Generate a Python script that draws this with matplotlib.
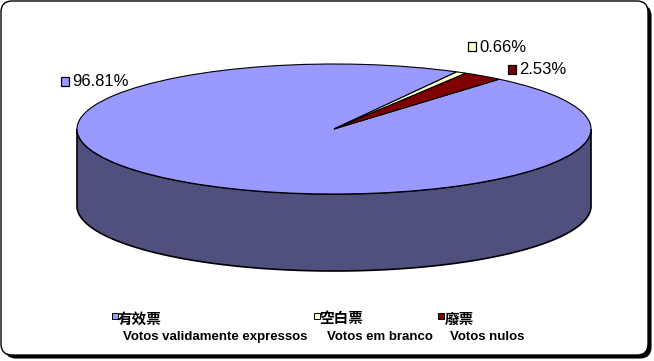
import numpy as np
import matplotlib
matplotlib.use("Agg")
import matplotlib.pyplot as plt
from matplotlib.patches import FancyBboxPatch, Rectangle, Polygon

# ---- data ----
values = [96.81, 0.66, 2.53]
pct_labels = ["96.81%", "0.66%", "2.53%"]
cn_labels = ["有效票", "空白票", "廢票"]
pt_labels = ["Votos validamente expressos", "Votos em branco", "Votos nulos"]
colors = ["#9999FF", "#FFFFCC", "#800000"]
side_color = "#50507F"

W, H = 654, 361
fig = plt.figure(figsize=(W / 100, H / 100), dpi=100)
fig.patch.set_facecolor("white")

# background axes in pixel coordinates (frame)
bg = fig.add_axes([0, 0, 1, 1], zorder=0)
bg.set_xlim(0, W)
bg.set_ylim(H, 0)
bg.axis("off")

bg.add_patch(FancyBboxPatch((5, 5), 646, 353, boxstyle="round,pad=0,rounding_size=11",
                            facecolor="black", edgecolor="black", lw=0.8))
bg.add_patch(FancyBboxPatch((1, 1), 647, 354, boxstyle="round,pad=0,rounding_size=11",
                            facecolor="white", edgecolor="black", lw=1.0))

# ---- 3D-looking pie ----
cx0, cx1 = 77, 591       # ellipse left/right in px
top, ry_px, depth_px = 64, 65, 77
d = depth_px / ry_px
pax = fig.add_axes([cx0 / W, (H - (top + 2 * ry_px + depth_px)) / H,
                    (cx1 - cx0) / W, (2 * ry_px + depth_px) / H], zorder=1)
pax.patch.set_alpha(0)

t = np.linspace(np.pi, 2 * np.pi, 200)
side = np.concatenate([np.c_[np.cos(t), np.sin(t) - d],
                       np.c_[np.cos(t[::-1]), np.sin(t[::-1])]])
pax.add_patch(Polygon(side, closed=True, facecolor=side_color, edgecolor="black",
                      lw=1.2, clip_on=False, zorder=1))

wedges, _ = pax.pie(values, colors=colors, startangle=50, counterclock=False,
                    wedgeprops=dict(edgecolor="black", linewidth=0.8))
for w in wedges:
    w.set_clip_on(False)
    w.set_zorder(2)
pax.set_aspect("auto")
pax.set_xlim(-1, 1)
pax.set_ylim(-1 - d, 1)
pax.axis("off")

# foreground axes for labels and legend
ov = fig.add_axes([0, 0, 1, 1], zorder=2)
ov.patch.set_alpha(0)
ov.set_xlim(0, W)
ov.set_ylim(H, 0)
ov.axis("off")

# ---- percentage labels ----
lab_pos = [(65, 81, 72), (472, 46.5, 479), (512, 69, 519)]
for (sx, sy, tx), lab, c in zip(lab_pos, pct_labels, colors):
    ov.add_patch(Rectangle((sx - 4, sy - 4.5), 8, 9, facecolor=c, edgecolor="black",
                           lw=0.9, zorder=3))
    ov.text(tx, sy + 0.5, lab, fontsize=12, family="Liberation Sans", va="center",
            ha="left", zorder=3)

# ---- legend ----
leg_sq = [115, 317, 441]
leg_cn = [118, 319, 445]
leg_pt = [123, 327, 450]
for sq, cnx, ptx, cn, pt, c in zip(leg_sq, leg_cn, leg_pt, cn_labels, pt_labels, colors):
    ov.add_patch(Rectangle((sq - 3, 313), 6, 6, facecolor=c, edgecolor="black",
                           lw=0.7, zorder=3))
    ov.text(cnx, 318.5, cn, fontsize=10.5, family=["Noto Sans CJK TC", "DejaVu Sans"],
            fontweight="bold", va="center", ha="left", zorder=3)
    ov.text(ptx, 337, pt, fontsize=9.5, family="Liberation Sans", fontweight="bold",
            va="center", ha="left", zorder=3)

fig.savefig("out.png", dpi=100, facecolor="white")
